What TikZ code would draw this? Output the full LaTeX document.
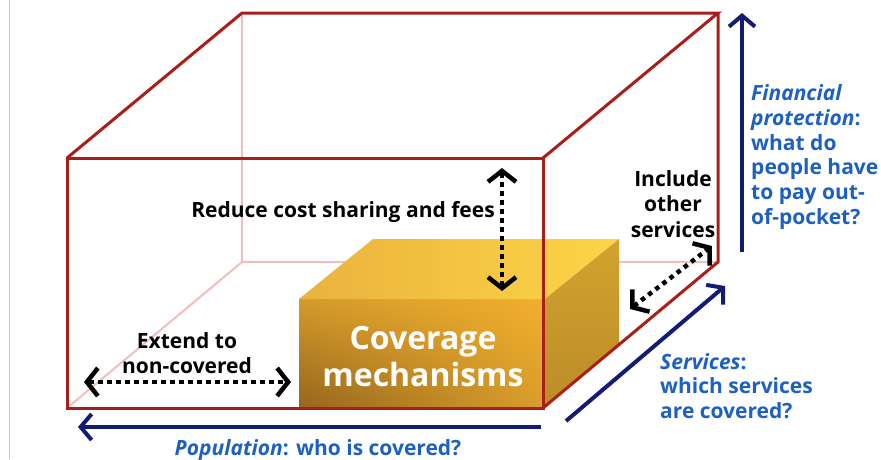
\documentclass[tikz,border=0pt]{standalone}
\usepackage{fontspec}
\setmainfont{Open Sans}
\usetikzlibrary{arrows.meta,shadings}
\definecolor{cubered}{HTML}{AA1E1A}
\definecolor{backpink}{HTML}{F5BCBC}
\definecolor{navy}{HTML}{111C72}
\definecolor{axisblue}{HTML}{1D60C2}
\definecolor{boxdark}{HTML}{96661D}
\definecolor{boxmid}{HTML}{D39A2B}
\definecolor{boxbright}{HTML}{F2AF2C}
\definecolor{topleft}{HTML}{EAB23E}
\definecolor{topright}{HTML}{FDD546}
\definecolor{sidetop}{HTML}{D2A32E}
\definecolor{sidebot}{HTML}{BC8C28}
\tikzset{
  frontedge/.style={draw=cubered, line width=3pt, line join=miter},
  backedge/.style={draw=backpink, line width=2pt},
  axisarrow/.style={draw=navy, line width=4pt, -{Straight Barb[length=11pt,width=26pt,line width=4pt]}},
  dotarrow/.style={draw=black, line width=4.5pt, dash pattern=on 4.5pt off 4.5pt,
     {Straight Barb[length=11pt,width=28pt,line width=4.5pt]}-{Straight Barb[length=11pt,width=28pt,line width=4.5pt]}},
  blacklabel/.style={font=\bfseries\fontsize{21}{25.5}\selectfont, text=black, align=center, inner sep=0pt},
  bluelabel/.style={font=\bfseries\fontsize{21}{24.8}\selectfont, text=axisblue, align=left, inner sep=0pt},
  boxlabel/.style={font=\bfseries\fontsize{32}{37}\selectfont, text=white, align=center, inner sep=0pt}
}
\begin{document}
\begin{tikzpicture}[x=1pt,y=-1pt]
\useasboundingbox (0,0) rectangle (881,459);
% slide border artifact
\draw[draw=black!22, line width=1pt] (9,0) -- (9,459);
% cube corners
\coordinate (FTL) at (67,158);
\coordinate (FTR) at (543,158);
\coordinate (FBR) at (543,408);
\coordinate (FBL) at (67,408);
\coordinate (BTL) at (242,13);
\coordinate (BTR) at (718,13);
\coordinate (BBR) at (718,262);
\coordinate (BBL) at (242,262);
% hidden back edges
\draw[backedge] (BTL) -- (BBL) -- (BBR);
\draw[backedge] (BBL) -- (FBL);
% coverage box
\shade[upper left=boxmid, upper right=boxbright, lower left=boxdark, lower right=boxmid!80!boxbright]
  (299,299) rectangle (545,407);
\shade[left color=topleft, right color=topright] (299,299) -- (373,239) -- (619,239) -- (545,299) -- cycle;
\shade[top color=sidetop, bottom color=sidebot] (545,299) -- (619,239) -- (619,346) -- (545,407) -- cycle;
\node[boxlabel] (cov) at (423,357) {Coverage\\mechanisms};
% visible cube edges
\draw[frontedge] (FTL) rectangle (FBR);
\draw[frontedge] (FTL) -- (BTL) -- (BTR) -- (FTR);
\draw[frontedge] (BTR) -- (BBR) -- (FBR);
% axes
\coordinate (finS) at (742,252);
\coordinate (finE) at (742,13);
\coordinate (serS) at (566,421);
\coordinate (serE) at (725,286);
\coordinate (popS) at (541,427);
\coordinate (popE) at (78,427);
\draw[axisarrow] (finS) -- (finE);
\draw[axisarrow] (serS) -- (serE);
\draw[axisarrow] (popS) -- (popE);
% dotted double arrows
\coordinate (redT) at (502,168);
\coordinate (redB) at (502,291);
\coordinate (extL) at (84,382);
\coordinate (extR) at (291,382);
\coordinate (incA) at (630,309);
\coordinate (incB) at (712,246);
\draw[dotarrow] (redT) -- (redB);
\draw[dotarrow] (extL) -- (extR);
\draw[dotarrow] (incA) -- (incB);
% labels
\node[blacklabel] (reduce) at (343,212) {Reduce cost sharing and fees};
\node[blacklabel] (include) at (673,204) {Include\\other\\services};
\node[blacklabel] (extend) at (187,353) {Extend to\\non-covered};
\node[bluelabel, anchor=west] (fin) at (751,157) {\textit{Financial}\\\textit{protection}:\\what do\\people have\\to pay out-\\of-pocket?};
\node[bluelabel, anchor=west] (ser) at (660,386) {\textit{Services}:\\which services\\are covered?};
\node[bluelabel] (pop) at (318,450) {\textit{Population}: who is covered?};
\end{tikzpicture}
\end{document}
